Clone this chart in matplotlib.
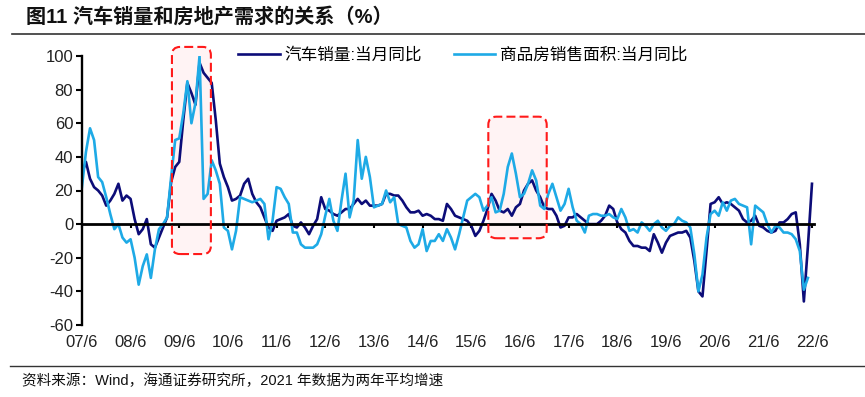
import numpy as np
import matplotlib
matplotlib.use('Agg')
import matplotlib.pyplot as plt
from matplotlib.patches import FancyBboxPatch
from matplotlib.lines import Line2D

plt.rcParams['font.family'] = ['Liberation Sans', 'Noto Sans CJK SC']
plt.rcParams['axes.unicode_minus'] = False

# 月度数据, 2007/6 起
car = [30, 37, 27, 22, 20, 17, 11, 14, 18, 24, 14, 17,
       15, 3, -6, -3, 3, -12, -14, -8, -2, 4, 25, 34,
       37, 62, 84, 78, 71, 96, 90, 87, 84, 62, 36, 28,
       22, 14, 15, 17, 24, 27, 18, 13, 10, 4, -2, -4,
       2, 3, 4, 6, -1, -2, 1, -2, -6, -1, 3, 16,
       9, 8, 6, 5, 7, 9, 9, 12, 15, 12, 14, 11,
       11, 11, 12, 18, 18, 17, 17, 14, 10, 7, 7, 8,
       5, 6, 5, 3, 3, 2, 12, 9, 5, 4, 3, 2,
       -1, -7, -4, 2, 9, 18, 14, 8, 7, 9, 5, 10,
       12, 20, 24, 26, 20, 16, 10, 9, 9, 5, -2, -1,
       4, 4, 6, 4, 2, 0, 0, 0, 2, 5, 11, 9,
       1, -3, -5, -10, -13, -13, -14, -14, -16, -6, -11, -17,
       -11, -7, -6, -5, -5, -4, -8, -22, -40, -43, -16, 12,
       13, 16, 12, 13, 12, 10, 8, 3, 1, 2, 5, -1,
       -2, -4, -5, -4, 1, 1, 3, 6, 7, -12, -46, -13, 24]

house = [22, 43, 57, 50, 28, 25, 16, 6, -3, 0, -8, -11,
         -9, -20, -36, -25, -18, -32, -15, -3, 0, 4, 28, 50,
         51, 66, 85, 60, 72, 100, 15, 18, 38, 32, 24, -2,
         -4, -15, -4, 16, 15, 14, 13, 14, 15, 12, -9, 2,
         22, 21, 16, 12, -5, -5, -12, -14, -14, -14, -12, -6,
         5, 15, 2, -4, 14, 30, 4, 14, 50, 27, 40, 28,
         10, 11, 12, 20, 13, 16, 0, -1, -2, -10, -14, -12,
         -3, -16, -10, -10, -6, -10, -3, -8, -15, -6, 4, 14,
         16, 18, 16, 8, 11, 16, 7, 8, 18, 34, 42, 30,
         16, 18, 24, 32, 26, 11, 9, 18, 24, 16, 8, 12,
         21, 10, 2, 0, -5, 5, 6, 6, 5, 5, 6, 4,
         3, 9, 4, -4, -3, -5, 1, -1, -4, 0, 2, -2,
         -4, -1, 0, 4, 2, 1, -2, -18, -40, -30, -8, 6,
         8, 5, 13, 8, 14, 15, 12, 11, 10, -12, 11, 9,
         7, 0, -5, -1, -2, -5, -5, -6, -9, -16, -39, -32]

tick_labels = ['07/6', '08/6', '09/6', '10/6', '11/6', '12/6', '13/6', '14/6',
               '15/6', '16/6', '17/6', '18/6', '19/6', '20/6', '21/6', '22/6']

# 红框: (起始月, 结束月, 下限, 上限)
boxes = [(22.2, 31.8, -17.8, 105.4),
         (100.2, 114.6, -8.4, 63.9)]

navy = '#0c0c78'
sky = '#1eaae6'

fig = plt.figure(figsize=(8.65, 3.97), dpi=100)
W, H = 865, 397
ax = fig.add_axes([81.5 / W, (H - 325) / H, (814 - 81.5) / W, (325 - 56) / H])

x1 = np.arange(len(car))
x2 = np.arange(len(house))
ax.plot(x1, car, color=navy, lw=1.9, zorder=2, label='汽车销量:当月同比')
ax.plot(x2, house, color=sky, lw=1.9, zorder=2.1, label='商品房销售面积:当月同比')

ax.set_xlim(-0.1, 180.5)
ax.set_ylim(-60, 100)
ax.set_yticks(np.arange(-60, 101, 20))

# 圆角比例
asp = (160 / 269) / (180.6 / 732.5)
for x0, x1_, y0, y1 in boxes:
    fill = FancyBboxPatch((x0, y0), x1_ - x0, y1 - y0,
                          boxstyle='round,pad=0,rounding_size=2',
                          mutation_aspect=asp, facecolor='#fff3f4',
                          edgecolor='none', zorder=0.5, clip_on=False)
    edge = FancyBboxPatch((x0, y0), x1_ - x0, y1 - y0,
                          boxstyle='round,pad=0,rounding_size=2',
                          mutation_aspect=asp, facecolor='none',
                          edgecolor='#ff1a1a', lw=1.5, linestyle=(0, (4.3, 2)),
                          zorder=4, clip_on=False)
    ax.add_patch(fill)
    ax.add_patch(edge)

for s in ['top', 'right']:
    ax.spines[s].set_visible(False)
ax.spines['left'].set_linewidth(1.7)
ax.spines['bottom'].set_position(('data', 0))
ax.spines['bottom'].set_linewidth(2.0)
ax.spines['bottom'].set_zorder(3)
ax.set_xticks(range(0, 181, 12))
ax.tick_params(axis='x', direction='out', length=3, width=1.5, labelbottom=False)
ax.tick_params(axis='y', direction='out', length=4, width=1.5, pad=2,
               labelsize=12, labelcolor='#222222')

sec = ax.secondary_xaxis('bottom')
sec.set_xticks(range(0, 181, 12), labels=tick_labels)
sec.tick_params(length=0, pad=7, labelsize=12, labelcolor='#222222')
sec.spines['bottom'].set_visible(False)

fig.legend(loc='center left', bbox_to_anchor=(238 / W, 1 - 55 / H), ncol=2,
           frameon=False, fontsize=12, handlelength=2.5, handletextpad=0.3,
           columnspacing=1.9, borderpad=0, borderaxespad=0)

fig.text(26 / W, 1 - 17 / H, '图11 汽车销量和房地产需求的关系（%）',
         fontsize=14.5, fontweight='bold', va='center', color='#111111')
fig.add_artist(Line2D([12 / W, 1], [1 - 33.5 / H] * 2, color='#333333', lw=1.2))
fig.add_artist(Line2D([10 / W, 1], [1 - 366 / H] * 2, color='#333333', lw=1.0))
fig.text(22 / W, 1 - 381 / H, '资料来源：Wind，海通证券研究所，2021 年数据为两年平均增速',
         fontsize=10.5, va='center', color='#111111')

fig.savefig('out.png', dpi=100)
